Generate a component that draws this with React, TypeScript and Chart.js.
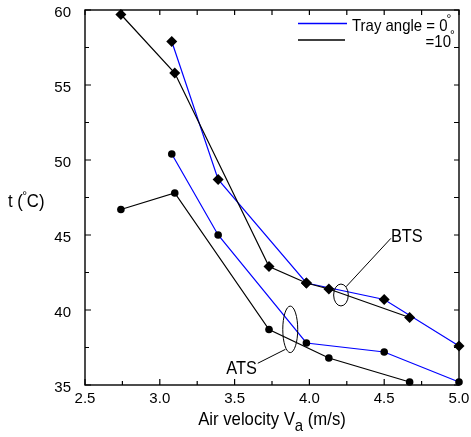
import React, { useEffect, useRef } from "react";
import { Chart, registerables } from "chart.js";

Chart.register(...registerables);

// ---- Data ----
// BTS, tray angle 0° (blue line, diamonds)
const btsSpeed0 = [3.08, 3.39, 3.98, 4.5, 5.0];
const btsTemp0 = [57.9, 48.7, 41.8, 40.7, 37.6];
// BTS, tray angle 10° (black line, diamonds)
const btsSpeed10 = [2.74, 3.1, 3.73, 3.98, 4.13, 4.67];
const btsTemp10 = [59.7, 55.8, 42.9, 41.8, 41.4, 39.5];
// ATS, tray angle 0° (blue line, circles)
const atsSpeed0 = [3.08, 3.39, 3.98, 4.5, 5.0];
const atsTemp0 = [50.4, 45.0, 37.8, 37.2, 35.2];
// ATS, tray angle 10° (black line, circles)
const atsSpeed10 = [2.74, 3.1, 3.73, 4.13, 4.67];
const atsTemp10 = [46.7, 47.8, 38.7, 36.8, 35.2];

const xTicks = [2.5, 3.0, 3.5, 4.0, 4.5, 5.0];
const yTicks = [35, 40, 45, 50, 55, 60];
const xRange = [2.5, 5.0];
const yRange = [35, 60];

const legendLabels = ["Tray angle = 0", "=10"];
const xTitle = ["Air velocity V", "a", " (m/s)"];
const yTitle = ["t (", "C)"];
const groupLabels = ["BTS", "ATS"];

// annotation ellipses in data units: [cx, cy, rx, ry]
const btsEllipse = [4.211, 41.0, 0.049, 0.73];
const atsEllipse = [3.872, 38.71, 0.05, 1.55];
// leader lines in data units: [x1, y1, x2, y2]
const btsLeader = [4.245, 41.55, 4.545, 44.78];
const atsLeader = [3.84, 37.38, 3.655, 36.45];
// label anchor (left, baseline) in data units
const btsLabelPos = [4.545, 44.55];
const atsLabelPos = [3.444, 35.71];

const FONT = "'Liberation Sans', Arial, Helvetica, sans-serif";
const BLUE = "#0000ff";
const BLACK = "#000000";

function pts(xs: number[], ys: number[]) {
  return xs.map((x, i) => ({ x, y: ys[i] }));
}

function condText(
  ctx: CanvasRenderingContext2D,
  text: string,
  x: number,
  y: number,
  size: number,
  sx: number,
  align: "left" | "right" | "center" = "left"
) {
  ctx.save();
  ctx.font = `${size}px ${FONT}`;
  const w = ctx.measureText(text).width * sx;
  let left = x;
  if (align === "right") left = x - w;
  if (align === "center") left = x - w / 2;
  ctx.translate(left, y);
  ctx.scale(sx, 1);
  ctx.textAlign = "left";
  ctx.textBaseline = "alphabetic";
  ctx.fillStyle = BLACK;
  ctx.fillText(text, 0, 0);
  ctx.restore();
  return w;
}

function measure(ctx: CanvasRenderingContext2D, text: string, size: number, sx: number) {
  ctx.save();
  ctx.font = `${size}px ${FONT}`;
  const w = ctx.measureText(text).width * sx;
  ctx.restore();
  return w;
}

const decoPlugin = {
  id: "deco",
  beforeDatasetsDraw(chart: any) {
    const { ctx, chartArea: a, scales } = chart;
    const xs = scales.x;
    const ys = scales.y;
    ctx.save();
    ctx.strokeStyle = BLACK;
    ctx.lineWidth = 1.4;
    ctx.strokeRect(a.left, a.top, a.right - a.left, a.bottom - a.top);
    ctx.lineWidth = 1.2;
    ctx.beginPath();
    // x ticks (major + minor), inward, bottom and top
    for (let i = 0; i < xTicks.length; i++) {
      const v = xTicks[i];
      const vals = i < xTicks.length - 1 ? [v, (v + xTicks[i + 1]) / 2] : [v];
      vals.forEach((t, k) => {
        const len = k === 0 ? 6 : 4;
        const px = xs.getPixelForValue(t);
        ctx.moveTo(px, a.bottom);
        ctx.lineTo(px, a.bottom - len);
        ctx.moveTo(px, a.top);
        ctx.lineTo(px, a.top + 5);
      });
    }
    for (let i = 0; i < yTicks.length; i++) {
      const v = yTicks[i];
      const vals = i < yTicks.length - 1 ? [v, (v + yTicks[i + 1]) / 2] : [v];
      vals.forEach((t, k) => {
        const len = k === 0 ? 6 : 4;
        const py = ys.getPixelForValue(t);
        ctx.moveTo(a.left, py);
        ctx.lineTo(a.left + len, py);
        ctx.moveTo(a.right, py);
        ctx.lineTo(a.right - 5, py);
      });
    }
    ctx.stroke();
    ctx.restore();
  },
  afterDatasetsDraw(chart: any) {
    const { ctx, scales } = chart;
    const xs = scales.x;
    const ys = scales.y;
    const X = (v: number) => xs.getPixelForValue(v);
    const Y = (v: number) => ys.getPixelForValue(v);
    ctx.save();
    ctx.strokeStyle = BLACK;
    ctx.lineWidth = 1;
    [btsEllipse, atsEllipse].forEach(([cx, cy, rx, ry]) => {
      ctx.beginPath();
      ctx.ellipse(X(cx), Y(cy), Math.abs(X(cx + rx) - X(cx)), Math.abs(Y(cy + ry) - Y(cy)), 0, 0, Math.PI * 2);
      ctx.stroke();
    });
    [btsLeader, atsLeader].forEach(([x1, y1, x2, y2]) => {
      ctx.beginPath();
      ctx.moveTo(X(x1), Y(y1));
      ctx.lineTo(X(x2), Y(y2));
      ctx.stroke();
    });
    condText(ctx, groupLabels[0], X(btsLabelPos[0]), Y(btsLabelPos[1]), 19, 0.86);
    condText(ctx, groupLabels[1], X(atsLabelPos[0]), Y(atsLabelPos[1]), 19, 0.86);

    // legend
    const a = chart.chartArea;
    ctx.lineWidth = 1.3;
    ctx.strokeStyle = BLUE;
    ctx.beginPath();
    ctx.moveTo(a.right - 161, a.top + 13.5);
    ctx.lineTo(a.right - 112, a.top + 13.5);
    ctx.stroke();
    ctx.strokeStyle = BLACK;
    ctx.beginPath();
    ctx.moveTo(a.right - 161, a.top + 30);
    ctx.lineTo(a.right - 114, a.top + 30);
    ctx.stroke();
    const w1 = condText(ctx, legendLabels[0], a.right - 107, a.top + 20.5, 17, 0.88);
    condText(ctx, "°", a.right - 107 + w1 - 1, a.top + 13, 12, 1);
    condText(ctx, legendLabels[1], a.right - 8, a.top + 36.5, 17, 0.88, "right");
    condText(ctx, "°", a.right - 9, a.top + 29, 12, 1);
    ctx.restore();
  },
  afterDraw(chart: any) {
    const { ctx, chartArea: a } = chart;
    ctx.save();
    // x title with subscript
    const size = 19;
    const sx = 0.88;
    const w0 = measure(ctx, xTitle[0], size, sx);
    const w1 = measure(ctx, xTitle[1], size - 2, sx);
    const w2 = measure(ctx, xTitle[2], size, sx);
    const total = w0 + w1 + w2;
    const cx = (a.left + a.right) / 2;
    let left = cx - total / 2;
    const base = 425;
    condText(ctx, xTitle[0], left, base, size, sx);
    left += w0;
    condText(ctx, xTitle[1], left, base + 6, size - 2, sx);
    left += w1;
    condText(ctx, xTitle[2], left, base, size, sx);
    // y title with degree sign
    const midY = (a.top + a.bottom) / 2;
    let yl = 8;
    const yb = midY + 9.5;
    yl += condText(ctx, yTitle[0], yl, yb, size, sx);
    condText(ctx, "°", yl - 0.5, yb - 7, 12, 1);
    yl += 4;
    condText(ctx, yTitle[1], yl, yb, size, sx);
    ctx.restore();
  },
};

function zeroPad(s: any) {
  s.paddingTop = 0;
  s.paddingBottom = 0;
  s.paddingLeft = 0;
  s.paddingRight = 0;
}

export default function App() {
  const ref = useRef<HTMLCanvasElement | null>(null);
  useEffect(() => {
    if (!ref.current) return;
    const common = {
      showLine: true,
      borderWidth: 1.2,
      pointBackgroundColor: BLACK,
      pointBorderColor: BLACK,
      pointBorderWidth: 0,
      pointHoverRadius: 0,
      tension: 0,
      clip: false as any,
    };
    const chart = new Chart(ref.current, {
      type: "scatter",
      data: {
        datasets: [
          { ...common, label: "BTS 10", data: pts(btsSpeed10, btsTemp10), borderColor: BLACK, pointStyle: "rectRot", pointRadius: 5.5 },
          { ...common, label: "ATS 10", data: pts(atsSpeed10, atsTemp10), borderColor: BLACK, pointStyle: "circle", pointRadius: 3.8 },
          { ...common, label: "BTS 0", data: pts(btsSpeed0, btsTemp0), borderColor: BLUE, pointStyle: "rectRot", pointRadius: 5.5 },
          { ...common, label: "ATS 0", data: pts(atsSpeed0, atsTemp0), borderColor: BLUE, pointStyle: "circle", pointRadius: 3.8 },
        ],
      },
      options: {
        animation: false,
        responsive: false,
        devicePixelRatio: 1,
        layout: { padding: { top: 10, right: 12, left: 0, bottom: 0 } },
        plugins: { legend: { display: false }, tooltip: { enabled: false } },
        events: [],
        scales: {
          x: {
            type: "linear",
            min: xRange[0],
            max: xRange[1],
            grid: { display: false },
            border: { display: false },
            afterFit: (s: any) => {
              s.height = 52;
              zeroPad(s);
            },
            afterBuildTicks: (s: any) => {
              s.ticks = xTicks.map((v) => ({ value: v }));
            },
            ticks: {
              color: BLACK,
              font: { family: FONT, size: 15 },
              padding: -3,
              maxRotation: 0,
              callback: (v: any) => Number(v).toFixed(1),
            },
          },
          y: {
            type: "linear",
            min: yRange[0],
            max: yRange[1],
            grid: { display: false },
            border: { display: false },
            afterFit: (s: any) => {
              s.width = 85;
              zeroPad(s);
            },
            afterBuildTicks: (s: any) => {
              s.ticks = yTicks.map((v) => ({ value: v }));
            },
            ticks: {
              color: BLACK,
              font: { family: FONT, size: 15 },
              padding: 6,
              labelOffset: 2.5,
              callback: (v: any) => String(v),
            },
          },
        },
      },
      plugins: [decoPlugin],
    } as any);
    return () => chart.destroy();
  }, []);
  return (
    <div style={{ position: "fixed", left: 0, top: 0, width: 471, height: 437, background: "#fff" }}>
      <canvas ref={ref} width={471} height={437} style={{ display: "block", width: 471, height: 437 }} />
    </div>
  );
}
